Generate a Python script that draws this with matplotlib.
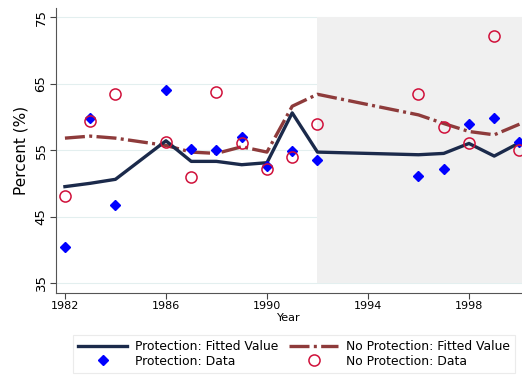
import matplotlib.pyplot as plt

# dados
years = [1982, 1983, 1984, 1986, 1987, 1988, 1989, 1990, 1991, 1992,
         1996, 1997, 1998, 1999, 2000]
prot_fit = [49.5, 50.0, 50.6, 56.4, 53.3, 53.3, 52.8, 53.1, 60.6, 54.7,
            54.3, 54.5, 56.0, 54.1, 56.1]
noprot_fit = [56.8, 57.1, 56.8, 55.7, 54.7, 54.5, 55.5, 54.7, 61.6, 63.4,
              60.3, 59.0, 57.8, 57.3, 58.9]
prot_data = [40.4, 59.9, 46.8, 64.0, 55.2, 55.0, 57.0, 52.6, 54.9, 53.5,
             51.1, 52.1, 58.9, 59.8, 56.2]
noprot_data = [48.1, 59.4, 63.4, 56.2, 50.9, 63.8, 56.0, 52.2, 53.9, 58.9,
               63.4, 58.5, 56.0, 72.1, 55.0]
yticks = [35, 45, 55, 65, 75]
xticks = [1982, 1986, 1990, 1994, 1998]

fig = plt.figure(figsize=(5.22, 3.77), dpi=100)
ax = fig.add_axes([0.107, 0.223, 0.893, 0.756])

# faixa cinza a partir de 1992
ax.fill_between([1992, 2001], 35, 75, color='#f0f0f0', zorder=0.5, lw=0)
for y in yticks:
    ax.axhline(y, color='#e3efef', lw=0.8, zorder=0.2)

l1, = ax.plot(years, prot_fit, color='#1b2a4b', lw=2.4, zorder=3)
l2, = ax.plot(years, noprot_fit, color='#8e3b3b', lw=2.4, zorder=2,
              dashes=(6, 1.3, 0.9, 1.3))
m1, = ax.plot(years, prot_data, 'D', color='#0000ff', ms=5.5, ls='none', zorder=4)
m2, = ax.plot(years, noprot_data, 'o', mfc='none', mec='#d0103a', mew=1.1,
              ms=8, ls='none', zorder=4)

ax.set_xlim(1981.64, 2000.1)
ax.set_ylim(33.5, 76.4)
ax.set_xticks(xticks)
ax.set_yticks(yticks)
ax.tick_params(axis='x', labelsize=8, color='#444444', length=4, pad=2)
ax.tick_params(axis='y', labelsize=9.5, color='#444444', length=4, pad=2)
for lab in ax.get_yticklabels():
    lab.set_rotation(90)
    lab.set_va('center')
ax.set_xlabel('Year', fontsize=8, labelpad=1)
ax.set_ylabel('Percent (%)', fontsize=11, labelpad=4)
for s in ['top', 'right']:
    ax.spines[s].set_visible(False)
for s in ['left', 'bottom']:
    ax.spines[s].set_color('#555555')

leg = fig.legend([l1, m1, l2, m2],
                 ['Protection: Fitted Value', 'Protection: Data',
                  'No Protection: Fitted Value', 'No Protection: Data'],
                 ncol=2, loc='lower left', bbox_to_anchor=(0.128, -0.005, 0.87, 0.14),
                 mode='expand', fontsize=8.9, frameon=True, fancybox=False,
                 handlelength=4.0, columnspacing=0.4, handletextpad=0.6,
                 labelspacing=0.15, borderpad=0.4)
leg.get_frame().set_edgecolor('#e6e6e6')
leg.get_frame().set_linewidth(0.8)

fig.savefig('out.png', dpi=100)
